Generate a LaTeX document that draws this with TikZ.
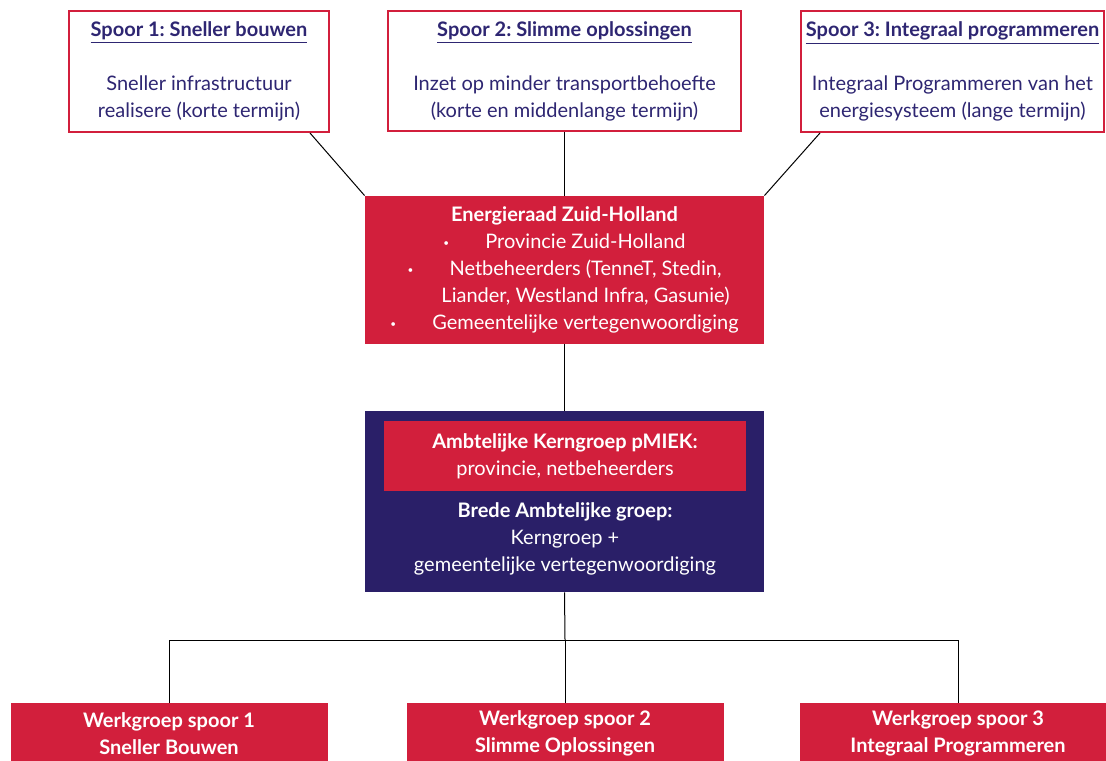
\documentclass[tikz,border=0pt]{standalone}
\usepackage{fontspec}
\setmainfont{Lato}
\frenchspacing
\definecolor{pzhred}{HTML}{D21F3C}
\definecolor{pzhblue}{HTML}{2A1F68}
\definecolor{pzhtext}{HTML}{2E2672}
\newcommand{\bul}{\makebox[21pt][l]{\raisebox{0.25ex}{\fontsize{5}{5}\selectfont\textbullet}}}

\begin{document}
\begin{tikzpicture}[x=0.5pt,y=-0.5pt,
    tekst/.style={align=center,inner sep=0pt,font=\fontsize{10}{13.5}\selectfont},
    spoor/.style={tekst,draw=pzhred,line width=1pt,fill=white,text=pzhtext},
    rood/.style={tekst,fill=pzhred,text=white},
    lijn/.style={black,line width=0.5pt}]
      \clip (0,0) rectangle (1106,760);
      % sporen
      \node[spoor,minimum width=130pt,minimum height=60.5pt] (spoor1) at (199,71.5)
        {\textbf{\underline{Spoor 1: Sneller bouwen}}\\[13.5pt] Sneller infrastructuur\\ realisere (korte termijn)};
      \node[spoor,minimum width=176.5pt,minimum height=60pt] (spoor2) at (564.5,71)
        {\textbf{\underline{Spoor 2: Slimme oplossingen}}\\[13.5pt] Inzet op minder transportbehoefte\\ (korte en middenlange termijn)};
      \node[spoor,minimum width=151.5pt,minimum height=60.5pt] (spoor3) at (952.5,71.5)
        {\textbf{\underline{Spoor 3: Integraal programmeren}}\\[13.5pt] Integraal Programmeren van het\\ energiesysteem (lange termijn)};
      % energieraad
      \node[rood,minimum width=199.5pt,minimum height=74pt] (raad) at (564.5,270)
        {\textbf{Energieraad Zuid-Holland}\\ \bul Provincie Zuid-Holland\\ \bul Netbeheerders (TenneT, Stedin,\\ \hspace*{21pt}Liander, Westland Infra, Gasunie)\\ \bul Gemeentelijke vertegenwoordiging};
      % ambtelijke groepen
      \node[fill=pzhblue,minimum width=199.5pt,minimum height=90.5pt,inner sep=0pt] (breed) at (564.5,501.5) {};
      \node[rood,minimum width=181pt,minimum height=35pt] (kern) at (565,456)
        {\textbf{Ambtelijke Kerngroep pMIEK:}\\ provincie, netbeheerders};
      \node[tekst,text=white] (brede) at (565,538.5)
        {\textbf{Brede Ambtelijke groep:}\\ Kerngroep +\\ gemeentelijke vertegenwoordiging};
      % werkgroepen
      \node[rood,minimum width=158.5pt,minimum height=30.5pt] (werk1) at (169,733.5)
        {\textbf{Werkgroep spoor 1}\\ \textbf{Sneller Bouwen}};
      \node[rood,minimum width=158.5pt,minimum height=30.5pt] (werk2) at (565,733.5)
        {\textbf{Werkgroep spoor 2}\\ \textbf{Slimme Oplossingen}};
      \node[rood,minimum width=158.5pt,minimum height=30.5pt] (werk3) at (958,733.5)
        {\textbf{Werkgroep spoor 3}\\ \textbf{Integraal Programmeren}};
      \coordinate (split) at (565,640);
      % lijnen
      \draw[lijn] ([xshift=-10pt]spoor1.south east) -- (raad.north west);
      \draw[lijn] (spoor2.south) -- (spoor2.south |- raad.north);
      \draw[lijn] ([xshift=10pt]spoor3.south west) -- (raad.north east);
      \draw[lijn] (raad.south) -- (raad.south |- breed.north);
      \draw[lijn] (breed.south) -- (split);
      \draw[lijn] (werk1.north) |- (split) -| (werk3.north);
      \draw[lijn] (split) -- (werk2.north);
\end{tikzpicture}
\end{document}
